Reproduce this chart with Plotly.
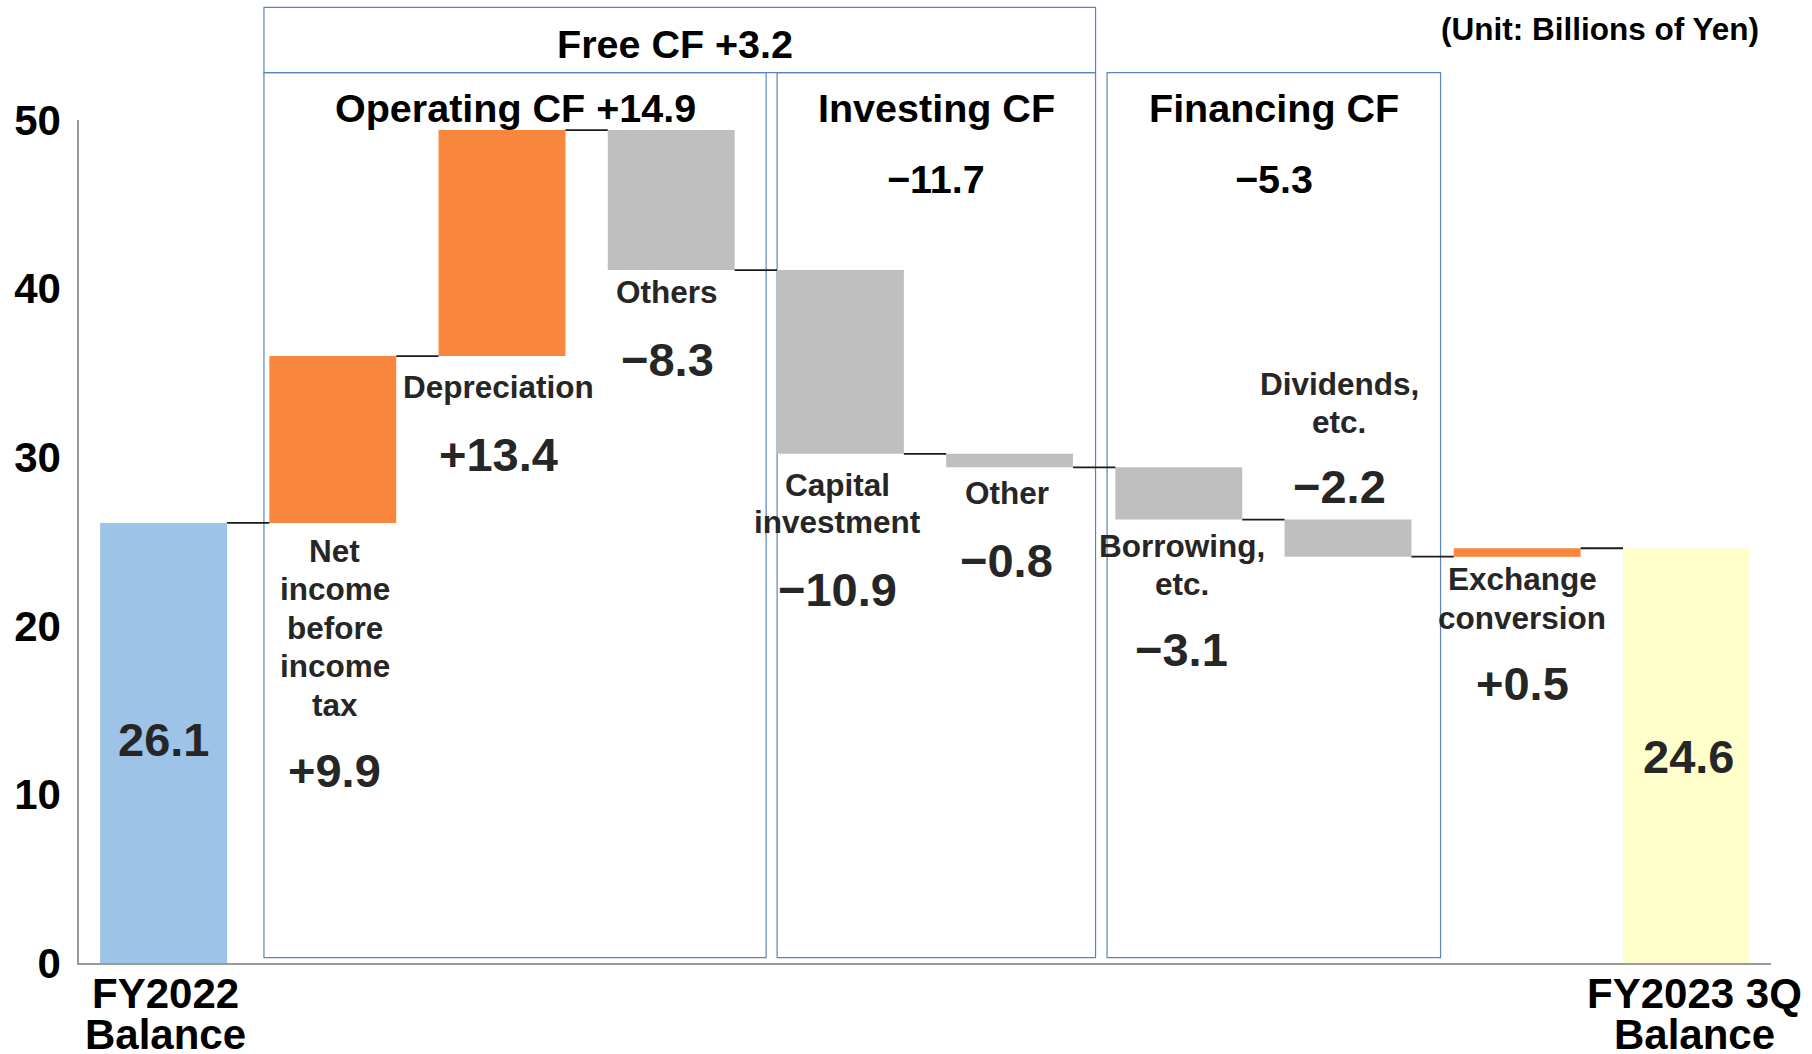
import plotly.graph_objects as go

# ---------------- data ----------------
categories = ["FY2022 Balance", "Net income before income tax", "Depreciation", "Others",
              "Capital investment", "Other", "Borrowing, etc.", "Dividends, etc.",
              "Exchange conversion", "FY2023 3Q Balance"]
start_balance = 26.1
changes = [9.9, 13.4, -8.3, -10.9, -0.8, -3.1, -2.2, 0.5]
end_balance = 24.6

x_tick_lines = {0: ["FY2022", "Balance"], 9: ["FY2023 3Q", "Balance"]}
bar_label_lines = [[], ["Net", "income", "before", "income", "tax"], ["Depreciation"], ["Others"],
                   ["Capital", "investment"], ["Other"], ["Borrowing,", "etc."], ["Dividends,", "etc."],
                   ["Exchange", "conversion"], []]
group_names = ["Operating CF", "Investing CF", "Financing CF"]
group_totals = [14.9, -11.7, -5.3]
free_cf_total = 3.2
y_ticks = [0, 10, 20, 30, 40, 50]
unit_text = "(Unit: Billions of Yen)"

# ---------------- style ----------------
FONT = "Liberation Sans, Arial, sans-serif"
BLUE, ORANGE, GRAY, YELLOW = "#9DC3E6", "#F9863D", "#BFBFBF", "#FFFFCC"
BOX = "#5B84BF"
TXT = "#262626"


def fmt(v):
    return f"{v:+.1f}".replace("-", "\u2212")


# bars built from the data
n = len(categories)
bases, heights, colors, ends = [0], [start_balance], [BLUE], [start_balance]
level = start_balance
for d in changes:
    new = round(level + d, 2)
    bases.append(min(level, new))
    heights.append(abs(d))
    colors.append(ORANGE if d > 0 else GRAY)
    level = new
    ends.append(level)
bases.append(0)
heights.append(end_balance)
colors.append(YELLOW)
ends.append(end_balance)

xs = list(range(n))
BW = 0.75

fig = go.Figure()
fig.add_trace(go.Bar(x=xs, y=heights, base=bases, width=BW,
                     marker=dict(color=colors, line=dict(width=0)),
                     hoverinfo="skip", showlegend=False))

# connectors
cx, cy = [], []
for i in range(n - 1):
    cx += [i + BW / 2, i + 1 - BW / 2, None]
    cy += [ends[i], ends[i], None]
fig.add_trace(go.Scatter(x=cx, y=cy, mode="lines", line=dict(color="#1a1a1a", width=1.8),
                         hoverinfo="skip", showlegend=False))

ann = []


def text(x, y, s, size, color=TXT, xref="x", yref="y", xshift=0, yshift=0,
         xanchor="center", yanchor="middle"):
    ann.append(dict(x=x, y=y, xref=xref, yref=yref, text=f"<b>{s}</b>", showarrow=False,
                    font=dict(family=FONT, size=size, color=color),
                    xshift=xshift, yshift=yshift, xanchor=xanchor, yanchor=yanchor))


# per-bar label placement (pixels from bar end: positive = downward)
label_layout = {
    1: dict(side="below", first=28, step=38.5, value=248, dx=2),
    2: dict(side="below", first=31, step=38, value=98, dx=-4),
    3: dict(side="below", first=22, step=38, value=89, dx=-4),
    4: dict(side="below", first=31.6, step=37, value=135.6, dx=-3),
    5: dict(side="below", first=26, step=38, value=93, dx=-3),
    6: dict(side="below", first=26, step=38, value=130, dx=3),
    7: dict(side="above", first=-136, step=38, value=-33, dx=-9),
    8: dict(side="below", first=22, step=39, value=127, dx=5),
}
for i, lay in label_layout.items():
    anchor = bases[i] if lay["side"] == "below" else bases[i] + heights[i]
    for k, line in enumerate(bar_label_lines[i]):
        text(i, anchor, line, 31.5, yshift=-(lay["first"] + k * lay["step"]), xshift=lay["dx"])
    text(i, anchor, fmt(changes[i - 1]), 47, yshift=-lay["value"], xshift=lay["dx"])

# balance values inside bars
text(0, start_balance / 2, f"{start_balance:.1f}", 47, yshift=3)
text(9, end_balance / 2, f"{end_balance:.1f}", 47, xshift=2, yshift=-1)

# x category labels
x_label_shift = {0: 2, 9: 8}
for i, lines in x_tick_lines.items():
    for k, line in enumerate(lines):
        text(i, -0.036 - k * 0.0483, line, 42, color="#000", yref="paper", xshift=x_label_shift[i])

# group boxes
box_x = [(0.593, 3.561), (3.626, 5.508), (5.576, 7.547)]
BOX_TOP, BOX_BOT, FREE_TOP = 1.0562, 0.0064, 1.1335
shapes = []
shapes.append(dict(type="rect", xref="x", yref="paper", x0=box_x[0][0], x1=box_x[1][1],
                   y0=BOX_TOP, y1=FREE_TOP, line=dict(color=BOX, width=1.2), layer="below"))
for (x0, x1) in box_x:
    shapes.append(dict(type="rect", xref="x", yref="paper", x0=x0, x1=x1, y0=BOX_BOT, y1=BOX_TOP,
                       line=dict(color=BOX, width=1.2), layer="below"))

# headers
free_mid = (box_x[0][0] + box_x[1][1]) / 2
text(free_mid, 1.0902, f"Free CF {fmt(free_cf_total)}", 39.5, color="#000", yref="paper", xshift=-5)
mids = [(a + b) / 2 for a, b in box_x]
text(mids[0], 1.0148, f"{group_names[0]} {fmt(group_totals[0])}", 39.5, color="#000", yref="paper")
for g in (1, 2):
    text(mids[g], 1.0148, group_names[g], 39.5, color="#000", yref="paper")
    text(mids[g], 0.930, fmt(group_totals[g]), 39.5, color="#000", yref="paper")

# unit
text(0.994, 1.108, unit_text, 31.5, color="#000", xref="paper", yref="paper", xanchor="right")

fig.update_layout(
    width=1812, height=1054,
    margin=dict(l=79, r=41, t=120, b=91, autoexpand=False),
    paper_bgcolor="white", plot_bgcolor="white",
    bargap=0.25,
    annotations=ann, shapes=shapes,
    xaxis=dict(range=[-0.5, 9.5], showgrid=False, zeroline=False, showticklabels=False,
               showline=True, linecolor="#9a9a9a", linewidth=1.5, ticks="", automargin=False),
    yaxis=dict(range=[0, 50], tickvals=y_ticks, showgrid=False, zeroline=False,
               showline=True, linecolor="#9a9a9a", linewidth=1.5, ticks="",
               ticklabelstandoff=8, automargin=False,
               tickfont=dict(family=FONT, size=42, color="#000", weight="bold")),
    font=dict(family=FONT),
)

fig.write_html("out.html", config={"displayModeBar": False},
               post_script="document.body.style.margin='0';")
